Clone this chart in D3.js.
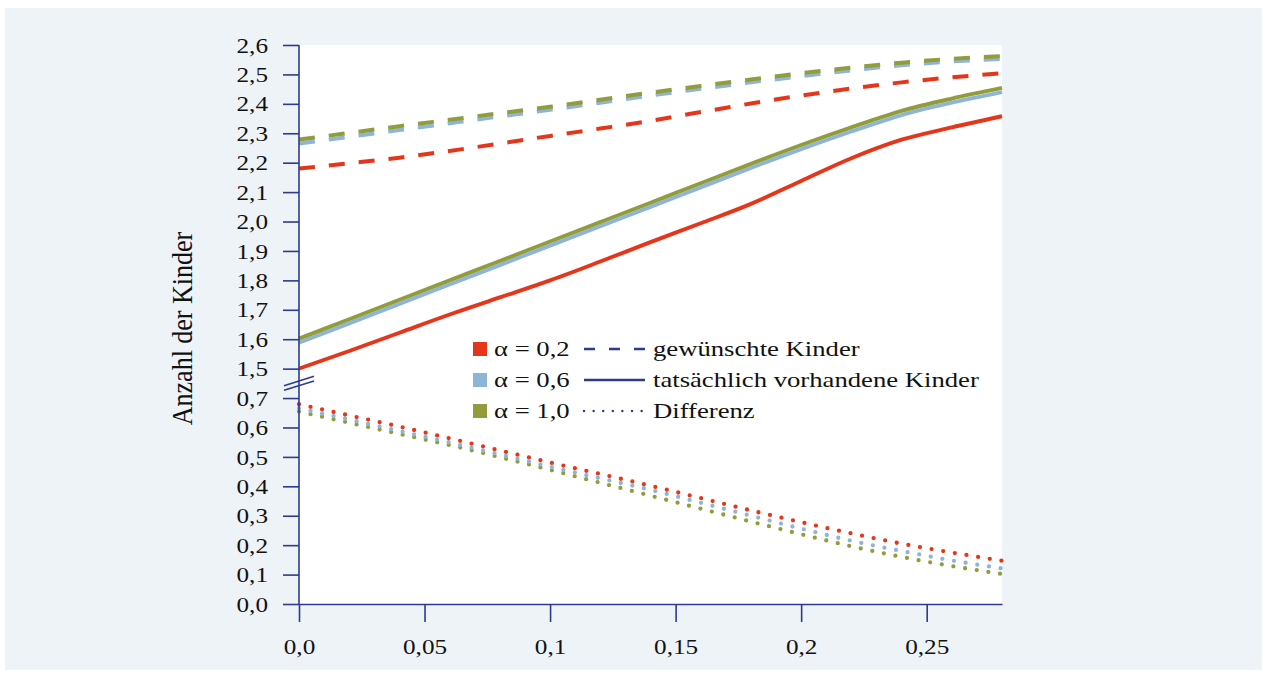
<!DOCTYPE html>
<html>
<head>
<meta charset="utf-8">
<script src="https://cdn.jsdelivr.net/npm/d3@7"></script>
<style>
  html, body { margin: 0; padding: 0; background: #ffffff; }
  svg { display: block; }
  text { font-family: "Liberation Serif", "Times New Roman", serif; fill: #111111; }
</style>
</head>
<body>
<svg id="chart" width="1267" height="675"></svg>
<script>
// x values (share parameter) at which every series is given
const xValues = [0, 0.02, 0.04, 0.06, 0.08, 0.10, 0.12, 0.14, 0.16, 0.18, 0.20, 0.22, 0.24, 0.26, 0.28];

// desired number of children (dashed)
const desired02 = [2.180, 2.198, 2.217, 2.240, 2.265, 2.291, 2.316, 2.342, 2.372, 2.401, 2.428, 2.452, 2.473, 2.490, 2.504];
const desired06 = [2.265, 2.288, 2.311, 2.334, 2.357, 2.380, 2.404, 2.428, 2.451, 2.473, 2.494, 2.514, 2.531, 2.544, 2.553];
const desired10 = [2.279, 2.301, 2.324, 2.346, 2.368, 2.390, 2.414, 2.438, 2.461, 2.483, 2.504, 2.523, 2.540, 2.553, 2.562];

// actual number of children (solid)
const actual02 = [1.500, 1.560, 1.622, 1.684, 1.742, 1.800, 1.864, 1.930, 1.994, 2.060, 2.138, 2.215, 2.278, 2.320, 2.358];
const actual06 = [1.588, 1.654, 1.720, 1.786, 1.852, 1.918, 1.984, 2.050, 2.116, 2.182, 2.246, 2.306, 2.362, 2.404, 2.440];
const actual10 = [1.602, 1.668, 1.734, 1.800, 1.866, 1.932, 1.998, 2.064, 2.130, 2.196, 2.260, 2.320, 2.376, 2.418, 2.454];

// difference desired - actual (dotted)
const gap02 = [0.679, 0.641, 0.603, 0.563, 0.522, 0.481, 0.442, 0.402, 0.360, 0.318, 0.278, 0.240, 0.205, 0.175, 0.147];
const gap06 = [0.665, 0.627, 0.588, 0.549, 0.508, 0.467, 0.427, 0.388, 0.344, 0.300, 0.256, 0.215, 0.180, 0.148, 0.121];
const gap10 = [0.654, 0.616, 0.578, 0.540, 0.499, 0.456, 0.412, 0.368, 0.324, 0.280, 0.237, 0.196, 0.160, 0.129, 0.102];

// ticks and labels
const xTickValues = [0, 0.05, 0.10, 0.15, 0.20, 0.25];
const xTickLabels = ["0,0", "0,05", "0,1", "0,15", "0,2", "0,25"];
const yUpperTicks = [1.5, 1.6, 1.7, 1.8, 1.9, 2.0, 2.1, 2.2, 2.3, 2.4, 2.5, 2.6];
const yLowerTicks = [0.0, 0.1, 0.2, 0.3, 0.4, 0.5, 0.6, 0.7];

const alphaLabels = ["α = 0,2", "α = 0,6", "α = 1,0"];
const lineTypeLabels = ["gewünschte Kinder", "tatsächlich vorhandene Kinder", "Differenz"];
const yTitle = "Anzahl der Kinder";

// colours
const colRed = "#e5361b", colBlue = "#8fb5d6", colGreen = "#939c3b";
const navy = "#2d3a8e";
const seriesColors = [colRed, colBlue, colGreen];

const svg = d3.select("#chart");
const W = 1267, H = 675;
const plot = { left: 299, right: 1002, top: 45, bottom: 604 };
const axisStretch = 1.2;
const legendStretch = 1.27;

// background panel and white plot area
svg.append("rect").attr("x", 5).attr("y", 8).attr("width", W - 10).attr("height", H - 13).attr("fill", "#eef3f8");
svg.append("rect").attr("x", plot.left).attr("y", plot.top)
  .attr("width", plot.right - plot.left).attr("height", plot.bottom - plot.top).attr("fill", "#ffffff");

// scales: one x scale, split y scale (upper 1.5..2.6, lower 0..0.7) with equal spacing per 0.1
const x = d3.scaleLinear().domain([0, 0.28]).range([plot.left, plot.right]);
const step = (plot.bottom - plot.top) / 19;
const yUpper = d3.scaleLinear().domain([1.5, 2.6]).range([plot.top + 11 * step, plot.top]);
const yLower = d3.scaleLinear().domain([0, 0.7]).range([plot.bottom, plot.bottom - 7 * step]);

const fmt1 = v => d3.format(".1f")(v).replace(".", ",");

// lines
function drawLine(values, yScale, color, style) {
  const line = d3.line()
    .x((d, i) => x(xValues[i]))
    .y(d => yScale(d))
    .curve(d3.curveMonotoneX);
  const p = svg.append("path")
    .datum(values)
    .attr("d", line)
    .attr("fill", "none")
    .attr("stroke", color);
  if (style === "dashed") {
    p.attr("stroke-width", 4).attr("stroke-dasharray", "16 14");
  } else if (style === "solid") {
    p.attr("stroke-width", 3.9).attr("stroke-linejoin", "round");
  } else {
    p.attr("stroke-width", 4.3).attr("stroke-linecap", "round").attr("stroke-dasharray", "0 11.8");
  }
}

drawLine(desired06, yUpper, colBlue, "dashed");
drawLine(desired10, yUpper, colGreen, "dashed");
drawLine(desired02, yUpper, colRed, "dashed");

drawLine(actual06, yUpper, colBlue, "solid");
drawLine(actual10, yUpper, colGreen, "solid");
drawLine(actual02, yUpper, colRed, "solid");

drawLine(gap10, yLower, colGreen, "dotted");
drawLine(gap06, yLower, colBlue, "dotted");
drawLine(gap02, yLower, colRed, "dotted");

// y axis (two segments sharing one axis line)
svg.append("line")
  .attr("x1", plot.left).attr("x2", plot.left)
  .attr("y1", yUpper(2.6)).attr("y2", yLower(0))
  .attr("stroke", navy).attr("stroke-width", 1.6);

function styleYAxis(g) {
  g.select(".domain").remove();
  g.selectAll(".tick line").attr("stroke", navy).attr("stroke-width", 1.6);
  g.selectAll(".tick text")
    .attr("x", 0).attr("dy", "0.34em")
    .attr("transform", `translate(-31,0) scale(${axisStretch},1)`)
    .style("font-size", "21px").style("font-family", "Liberation Serif, serif").attr("fill", "#111111");
}

svg.append("g").attr("transform", `translate(${plot.left},0)`)
  .call(d3.axisLeft(yUpper).tickValues(yUpperTicks).tickFormat(fmt1).tickSize(16).tickSizeOuter(0))
  .call(styleYAxis);
svg.append("g").attr("transform", `translate(${plot.left},0)`)
  .call(d3.axisLeft(yLower).tickValues(yLowerTicks).tickFormat(fmt1).tickSize(16).tickSizeOuter(0))
  .call(styleYAxis);

// axis break marks
const breakMid = (yUpper(1.5) + yLower(0.7)) / 2;
[-2.3, 2.3].forEach(off => {
  svg.append("line")
    .attr("x1", plot.left - 15).attr("y1", breakMid + off + 4.7)
    .attr("x2", plot.left + 15).attr("y2", breakMid + off - 4.7)
    .attr("stroke", navy).attr("stroke-width", 1.6);
});

// x axis
const xAxisG = svg.append("g").attr("transform", `translate(0,${plot.bottom})`)
  .call(d3.axisBottom(x).tickValues(xTickValues)
    .tickFormat((d, i) => xTickLabels[i]).tickSize(18).tickPadding(17).tickSizeOuter(0));
xAxisG.select(".domain").attr("stroke", navy).attr("stroke-width", 1.6);
xAxisG.selectAll(".tick line").attr("stroke", navy).attr("stroke-width", 1.6);
xAxisG.selectAll(".tick text")
  .attr("transform", `scale(${axisStretch},1)`)
  .style("font-size", "21px").style("font-family", "Liberation Serif, serif").attr("fill", "#111111");

// y axis title
svg.append("text")
  .attr("transform", `translate(192,${(yUpper(2.6) + yLower(0)) / 2 + 4}) scale(1.12,1) rotate(-90)`)
  .attr("text-anchor", "middle")
  .style("font-size", "26px")
  .text(yTitle);

// legend
const legend = svg.append("g").attr("transform", "translate(473,349)");
const rowGap = 31;
const dashStyles = [
  { dash: "11 14", cap: "butt" },
  { dash: null, cap: "butt" },
  { dash: "0 9.6", cap: "round" }
];
alphaLabels.forEach((lab, i) => {
  const row = legend.append("g").attr("transform", `translate(0,${i * rowGap})`);
  row.append("rect").attr("x", 0).attr("y", -7).attr("width", 14).attr("height", 14)
    .attr("fill", seriesColors[i]);
  row.append("text")
    .attr("transform", `translate(21,7) scale(${legendStretch},1)`)
    .style("font-size", "21px")
    .text(lab);
  const ln = row.append("line")
    .attr("x1", 111).attr("x2", 172).attr("y1", 0).attr("y2", 0)
    .attr("stroke", navy)
    .attr("stroke-width", i === 2 ? 2.4 : 2.6)
    .attr("stroke-linecap", dashStyles[i].cap);
  if (dashStyles[i].dash) ln.attr("stroke-dasharray", dashStyles[i].dash);
  row.append("text")
    .attr("transform", `translate(180,7) scale(${legendStretch},1)`)
    .style("font-size", "21px")
    .text(lineTypeLabels[i]);
});
</script>
</body>
</html>
